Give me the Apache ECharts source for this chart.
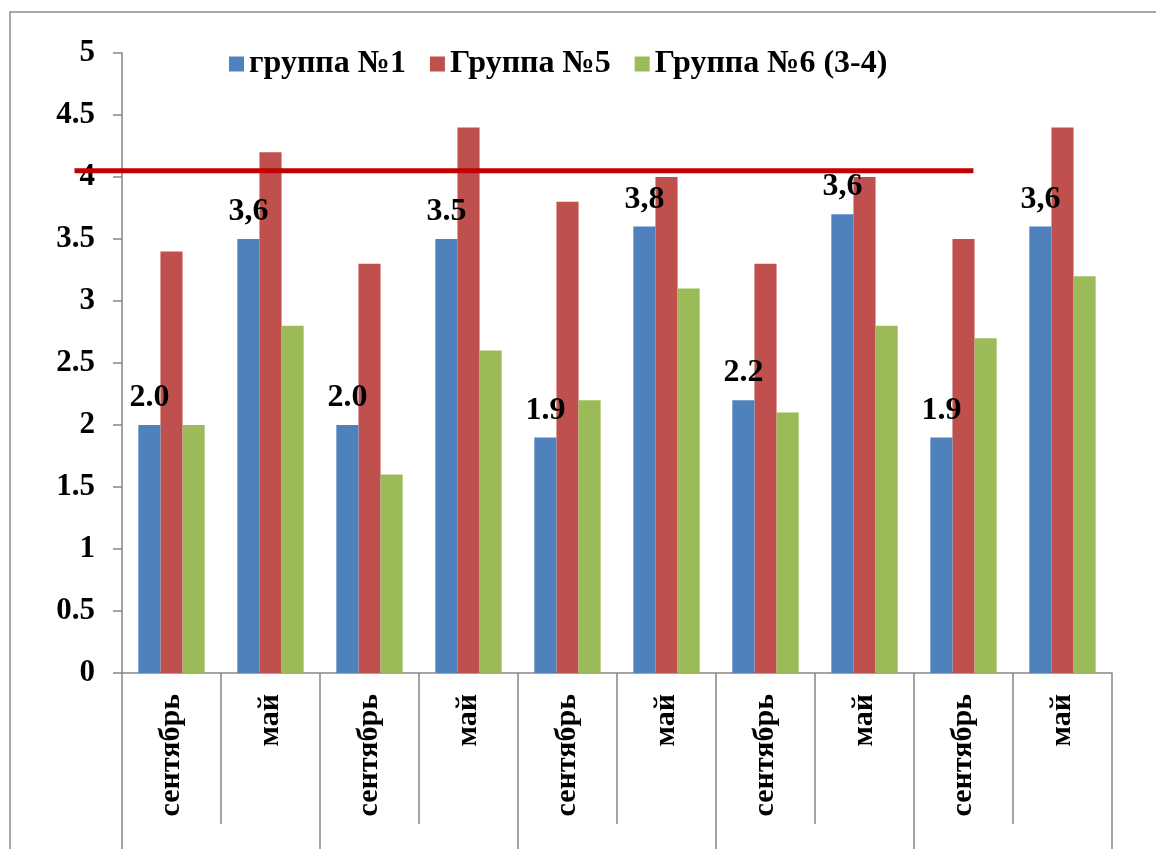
<!DOCTYPE html>
<html>
<head>
<meta charset="utf-8">
<script src="https://cdn.jsdelivr.net/npm/echarts@6/dist/echarts.min.js"></script>
<style>
html,body{margin:0;padding:0;background:#fff;}
#chart{width:1156px;height:849px;}
</style>
</head>
<body>
<div id="chart"></div>
<script>
var categories = ['сентябрь','май','сентябрь','май','сентябрь','май','сентябрь','май','сентябрь','май'];
var groups = ['','','','',''];
var seriesNames = ['группа №1','Группа №5','Группа №6 (3-4)'];
var group1 = [2.0, 3.5, 2.0, 3.5, 1.9, 3.6, 2.2, 3.7, 1.9, 3.6];
var group5 = [3.4, 4.2, 3.3, 4.4, 3.8, 4.0, 3.3, 4.0, 3.5, 4.4];
var group6 = [2.0, 2.8, 1.6, 2.6, 2.2, 3.1, 2.1, 2.8, 2.7, 3.2];
var group1Labels = ['2.0','3,6','2.0','3.5','1.9','3,8','2.2','3,6','1.9','3,6'];
var yTicks = ['0','0.5','1','1.5','2','2.5','3','3.5','4','4.5','5'];
// reference line, x measured in category widths from the axis origin
var refLine = [[-0.48, 4.05], [8.6, 4.05]];
var refAxisMin = -0.48;

var FONT = '"Liberation Serif", "Times New Roman", serif';
var GRAY = '#868686';

var chart = echarts.init(document.getElementById('chart'));
chart.setOption({
  animation: false,
  backgroundColor: '#fff',
  graphic: [{
    type: 'rect',
    shape: {x: 10, y: 12, width: 1300, height: 1000},
    style: {fill: 'none', stroke: '#8a8a8a', lineWidth: 1.5},
    silent: true,
    z: -10
  }],
  legend: {
    data: seriesNames,
    left: 224,
    top: 43,
    icon: 'rect',
    itemWidth: 15,
    itemHeight: 15,
    itemGap: 24,
    textStyle: {fontFamily: FONT, fontWeight: 'bold', fontSize: 32, color: '#000'}
  },
  grid: [
    {left: 122, right: 44, top: 53, bottom: 176, containLabel: false},
    {left: 122 + refAxisMin * 99, right: 44, top: 53, bottom: 176, containLabel: false}
  ],
  xAxis: [{
    type: 'category',
    gridIndex: 0,
    data: categories,
    position: 'bottom',
    axisLine: {show: true, lineStyle: {color: GRAY, width: 1.5}},
    axisTick: {show: true, length: 151, lineStyle: {color: GRAY, width: 1.5}},
    axisLabel: {rotate: 90, margin: 21, fontFamily: FONT, fontWeight: 'bold', fontSize: 30, color: '#000', interval: 0}
  }, {
    type: 'category',
    gridIndex: 0,
    data: groups,
    position: 'bottom',
    axisLine: {show: false},
    axisTick: {show: true, length: 200, lineStyle: {color: GRAY, width: 1.5}},
    axisLabel: {show: false}
  }, {
    type: 'value',
    gridIndex: 1,
    min: refAxisMin,
    max: 10,
    show: false
  }],
  yAxis: [{
    type: 'value',
    gridIndex: 0,
    min: 0,
    max: 5,
    interval: 0.5,
    axisLine: {show: true, lineStyle: {color: GRAY, width: 1.5}},
    axisTick: {show: true, length: 9, lineStyle: {color: GRAY, width: 1.5}},
    splitLine: {show: false},
    axisLabel: {
      margin: 27,
      fontFamily: FONT, fontWeight: 'bold', fontSize: 31, color: '#000',
      formatter: function (v) { return yTicks[Math.round(v * 2)]; }
    }
  }, {
    type: 'value',
    gridIndex: 1,
    min: 0,
    max: 5,
    show: false
  }],
  series: [{
    name: seriesNames[0],
    type: 'bar',
    data: group1,
    barGap: '0%',
    barCategoryGap: '33%',
    itemStyle: {color: '#4f81bd'},
    label: {
      show: true,
      position: 'top',
      distance: 11,
      fontFamily: FONT, fontWeight: 'bold', fontSize: 32, color: '#000',
      formatter: function (p) { return group1Labels[p.dataIndex]; }
    },
    z: 3
  }, {
    name: seriesNames[1],
    type: 'bar',
    data: group5,
    barGap: '0%',
    barCategoryGap: '33%',
    itemStyle: {color: '#c0504d'},
    z: 2
  }, {
    name: seriesNames[2],
    type: 'bar',
    data: group6,
    barGap: '0%',
    barCategoryGap: '33%',
    itemStyle: {color: '#9bbb59'},
    z: 2
  }, {
    type: 'line',
    xAxisIndex: 2,
    yAxisIndex: 1,
    data: refLine,
    symbol: 'none',
    lineStyle: {color: '#c00000', width: 5},
    z: 5,
    silent: true
  }]
});
</script>
</body>
</html>
